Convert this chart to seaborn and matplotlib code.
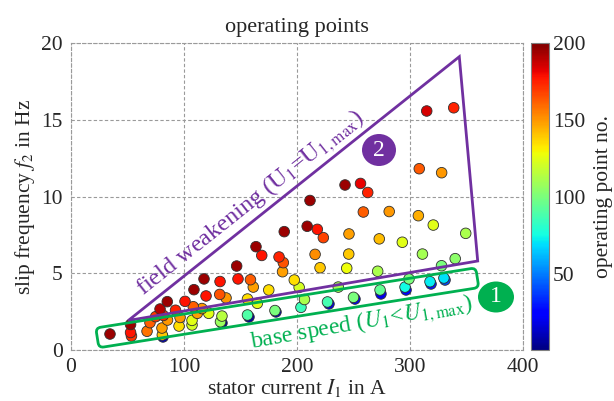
import numpy as np
import pandas as pd
import matplotlib
matplotlib.use("Agg")
import matplotlib.pyplot as plt
import seaborn as sns
from matplotlib.transforms import IdentityTransform, Affine2D
from matplotlib.patches import FancyBboxPatch, Ellipse, Polygon
import matplotlib.colors as mcolors
import matplotlib.cm as cm

# ---------------- data ----------------
current = [338.7, 314.8, 242.5, 256.2, 262.6, 308.2, 328.0, 211.5, 258.7, 281.6,
           307.4, 320.6, 349.3, 209.0, 218.0, 223.3, 246.0, 272.8, 293.2, 216.0,
           245.8, 311.0, 340.0, 220.4, 244.0, 271.4, 327.9, 299.1, 188.7, 163.7,
           168.8, 184.1, 187.9, 187.2, 146.6, 147.8, 158.8, 161.3, 175.0, 197.6,
           201.9, 206.6, 156.2, 164.9, 117.7, 131.9, 108.8, 119.5, 131.6, 137.2,
           121.9, 133.6, 132.3, 115.9, 108.2, 85.2, 100.9, 78.8, 92.5, 81.7,
           96.5, 111.8, 107.1, 107.1, 95.6, 85.4, 74.9, 69.9, 67.3, 80.5,
           80.8, 52.7, 52.7, 53.5, 34.5, 156.2, 180.5, 203.5, 227.0, 250.0,
           273.5, 295.6, 317.7, 330.0, 236.5,
           133.6, 157.5, 181.4, 228.3, 251.3, 274.3, 296.5, 318.6, 331.0, 81.4]
slip = [15.78, 15.57, 10.75, 10.85, 10.26, 11.81, 11.55, 9.74, 8.99, 9.02,
        8.75, 8.14, 7.60, 8.06, 7.86, 7.32, 7.56, 7.24, 7.02, 6.23,
        6.25, 6.25, 5.95, 5.36, 5.33, 5.13, 5.49, 4.63, 7.71, 6.73,
        6.16, 6.06, 5.69, 5.10, 5.47, 4.63, 4.58, 4.10, 3.91, 4.56,
        4.08, 3.29, 3.32, 3.04, 4.63, 4.46, 3.93, 3.52, 3.62, 3.39,
        2.39, 2.21, 1.84, 2.70, 2.82, 3.15, 3.17, 2.67, 2.59, 2.25,
        2.12, 2.39, 1.93, 1.63, 1.56, 1.95, 2.17, 1.78, 1.22, 1.43,
        0.98, 1.66, 1.14, 0.91, 1.04, 2.28, 2.57, 2.78, 3.13, 3.43,
        3.91, 4.10, 4.45, 4.69, 4.10,
        1.76, 2.15, 2.48, 3.00, 3.32, 3.65, 3.91, 4.30, 4.56, 0.85]
op_no = [175, 185, 195, 182, 175, 163, 150, 195, 162, 150,
         145, 125, 112, 195, 178, 168, 148, 142, 125, 152,
         140, 110, 105, 140, 128, 112, 100, 100, 195, 195,
         178, 175, 165, 148, 195, 178, 162, 148, 135, 135,
         122, 112, 135, 125, 195, 178, 195, 178, 165, 150,
         125, 115, 108, 150, 162, 195, 178, 190, 175, 175,
         150, 148, 125, 122, 135, 150, 170, 162, 158, 148,
         140, 195, 178, 172, 195, 90, 100, 85, 88, 100,
         95, 75, 72, 70, 110,
         5, 8, 12, 18, 22, 20, 25, 30, 40, 10]

x_ticks = [0, 100, 200, 300, 400]
y_ticks = [0, 5, 10, 15, 20]
cb_ticks = [50, 100, 150, 200]

df = pd.DataFrame({"current": current, "slip": slip, "op": op_no}).sort_values("op")

# ---------------- style ----------------
sns.set_style("white")
plt.rcParams["font.family"] = ["Liberation Serif", "DejaVu Serif"]
plt.rcParams["mathtext.fontset"] = "stix"

PURPLE = "#7030A0"
GREEN = "#00B050"
H = 401
JET = plt.get_cmap("jet")
FS = 15.5

fig = plt.figure(figsize=(6.14, 4.01), dpi=100)
ax = fig.add_axes([71 / 614, 1 - 350 / 401, (523 - 71) / 614, (350 - 43) / 401])
cax = fig.add_axes([531 / 614, 1 - 350 / 401, 18 / 614, (350 - 43) / 401])

sns.scatterplot(data=df, x="current", y="slip", hue="op", palette=JET,
                hue_norm=(1, 200), s=58, edgecolor="#303030", linewidth=0.6,
                legend=False, ax=ax, zorder=3)

ax.set_xlim(0, 400)
ax.set_ylim(0, 20)
ax.set_xticks(x_ticks)
ax.set_yticks(y_ticks)
ax.grid(True, color="#9a9a9a", linestyle=(0, (3, 2)), linewidth=0.8)
for sp in ax.spines.values():
    sp.set_linestyle((0, (3, 2)))
    sp.set_color("#9a9a9a")
    sp.set_linewidth(0.8)
ax.tick_params(length=0, labelsize=FS, pad=6)
ax.set_xlabel(r"stator current $I_1$ in A", fontsize=FS, labelpad=0)
ax.set_ylabel(r"slip frequency $f_2$ in Hz", fontsize=FS, labelpad=3)
ax.set_title("operating points", fontsize=16, pad=8)

# colorbar
sm = cm.ScalarMappable(norm=mcolors.Normalize(1, 200), cmap=JET)
cb = fig.colorbar(sm, cax=cax, ticks=cb_ticks)
cb.outline.set_edgecolor("#808080")
cb.outline.set_linewidth(0.8)
cax.tick_params(labelsize=FS, length=3, direction="in", pad=3, color="#808080")
cb.set_label("operating point no.", fontsize=FS, labelpad=6)

# ---------------- annotations (pixel space) ----------------
T = IdentityTransform()

tri = Polygon([(128.3, H - 320.5), (459.3, H - 56.7), (477.7, H - 261.0)],
              closed=True, fill=False, edgecolor=PURPLE, linewidth=2.0,
              transform=T, zorder=5)
fig.add_artist(tri)

cx, cy, L, hh = 287.3, H - 307.8, 384.7, 20.0
box = FancyBboxPatch((cx - L / 2, cy - hh / 2), L, hh,
                     boxstyle="round,pad=0,rounding_size=5",
                     fill=False, edgecolor=GREEN, linewidth=2.0,
                     transform=Affine2D().rotate_deg_around(cx, cy, 9.0) + T,
                     zorder=5)
fig.add_artist(box)

fig.add_artist(Ellipse((496, H - 297), 36, 31, facecolor=GREEN, edgecolor="none",
                       transform=T, zorder=6))
fig.text(496, H - 297, "1", color="white", fontsize=17, ha="center", va="center",
         transform=T, zorder=7)
fig.add_artist(Ellipse((379, H - 150), 34, 32, facecolor=PURPLE, edgecolor="none",
                       transform=T, zorder=6))
fig.text(379, H - 150, "2", color="white", fontsize=17, ha="center", va="center",
         transform=T, zorder=7)

fig.text(254, H - 208, r"field weakening ($\mathrm{U_1}$=$\mathrm{U_{1,max}}$)",
         color=PURPLE, fontsize=17.5, rotation=38.5, rotation_mode="anchor",
         ha="center", va="baseline", transform=T, zorder=6)
fig.text(363, H - 329, r"base speed ($U_1$<$U_{1,\mathrm{max}}$)",
         color=GREEN, fontsize=17, rotation=10, rotation_mode="anchor",
         ha="center", va="baseline", transform=T, zorder=6)

fig.savefig("out.png", dpi=100)
